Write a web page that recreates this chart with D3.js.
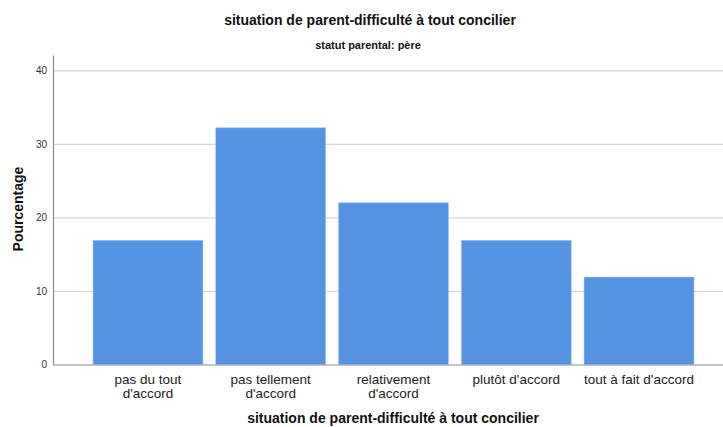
<!DOCTYPE html>
<html><head><meta charset="utf-8">
<script src="https://cdn.jsdelivr.net/npm/d3@7"></script>
<style>body{margin:0;background:#fff}svg{display:block;font-family:"Liberation Sans",Arial,sans-serif}</style>
</head><body><svg id="c" width="723" height="427"></svg>
<script>
const categories = [["pas du tout","d'accord"],["pas tellement","d'accord"],["relativement","d'accord"],["plutôt d'accord"],["tout à fait d'accord"]];
const values = [16.9, 32.2, 22.0, 16.9, 11.9];
const yTicks = [0, 10, 20, 30, 40];
const title = "situation de parent-difficulté à tout concilier";
const subtitle = "statut parental: père";
const xTitle = "situation de parent-difficulté à tout concilier";
const yTitle = "Pourcentage";

(function(){
const svg = d3.select("#c");
const mLeft = 53, mRight = 723, mTop = 55, mBottom = 364.5;
const x = d3.scaleBand().domain(d3.range(values.length)).range([86.6, 700.4]).paddingInner(0.104).paddingOuter(0.052);
const y = d3.scaleLinear().domain([0, 42.1]).range([mBottom, mTop]);

// gridlines
svg.append("g").selectAll("line").data(yTicks.filter(d=>d>0)).join("line")
  .attr("x1", mLeft).attr("x2", mRight).attr("y1", d=>y(d)+0.5).attr("y2", d=>y(d)+0.5)
  .attr("stroke", "#d4d4d4").attr("stroke-width", 1.2);

// bars
svg.append("g").selectAll("rect").data(values).join("rect")
  .attr("x", (d,i)=>x(i)).attr("width", x.bandwidth())
  .attr("y", d=>y(d)).attr("height", d=>mBottom - y(d))
  .attr("fill", "#5594e3").attr("stroke", "#a9c9f0").attr("stroke-width", 0.6);

// y axis
const yAxis = d3.axisLeft(y).tickValues(yTicks).tickSize(0).tickPadding(6);
const gy = svg.append("g").attr("transform", `translate(${mLeft},0)`).call(yAxis);
gy.select(".domain").attr("stroke", "#8c8c8c").attr("stroke-width", 1.2);
gy.selectAll("text").attr("font-size", 10).attr("fill", "#333").attr("font-family", "Liberation Sans, Arial, sans-serif");

// x axis line
svg.append("line").attr("x1", mLeft).attr("x2", mRight).attr("y1", mBottom+0.5).attr("y2", mBottom+0.5)
  .attr("stroke", "#8c8c8c").attr("stroke-width", 1.2);

// category labels
const cl = svg.append("g").selectAll("text").data(categories).join("text")
  .attr("x", (d,i)=>x(i)+x.bandwidth()/2).attr("y", 384)
  .attr("text-anchor", "middle").attr("font-size", 13.5).attr("fill", "#222");
cl.selectAll("tspan").data(d=>d).join("tspan")
  .attr("x", function(){return this.parentNode.getAttribute("x");})
  .attr("dy", (d,i)=>i===0?0:14).text(d=>d);

// titles
svg.append("text").attr("x", 370).attr("y", 25).attr("text-anchor","middle")
  .attr("font-size", 14).attr("font-weight","bold").attr("fill","#111").text(title);
svg.append("text").attr("x", 368).attr("y", 49).attr("text-anchor","middle")
  .attr("font-size", 11).attr("font-weight","bold").attr("fill","#111").text(subtitle);
svg.append("text").attr("x", 393).attr("y", 423).attr("text-anchor","middle")
  .attr("font-size", 14).attr("font-weight","bold").attr("fill","#111").text(xTitle);
svg.append("text").attr("transform", "translate(23,209) rotate(-90)").attr("text-anchor","middle")
  .attr("font-size", 14).attr("font-weight","bold").attr("fill","#111").text(yTitle);
})();
</script></body></html>
